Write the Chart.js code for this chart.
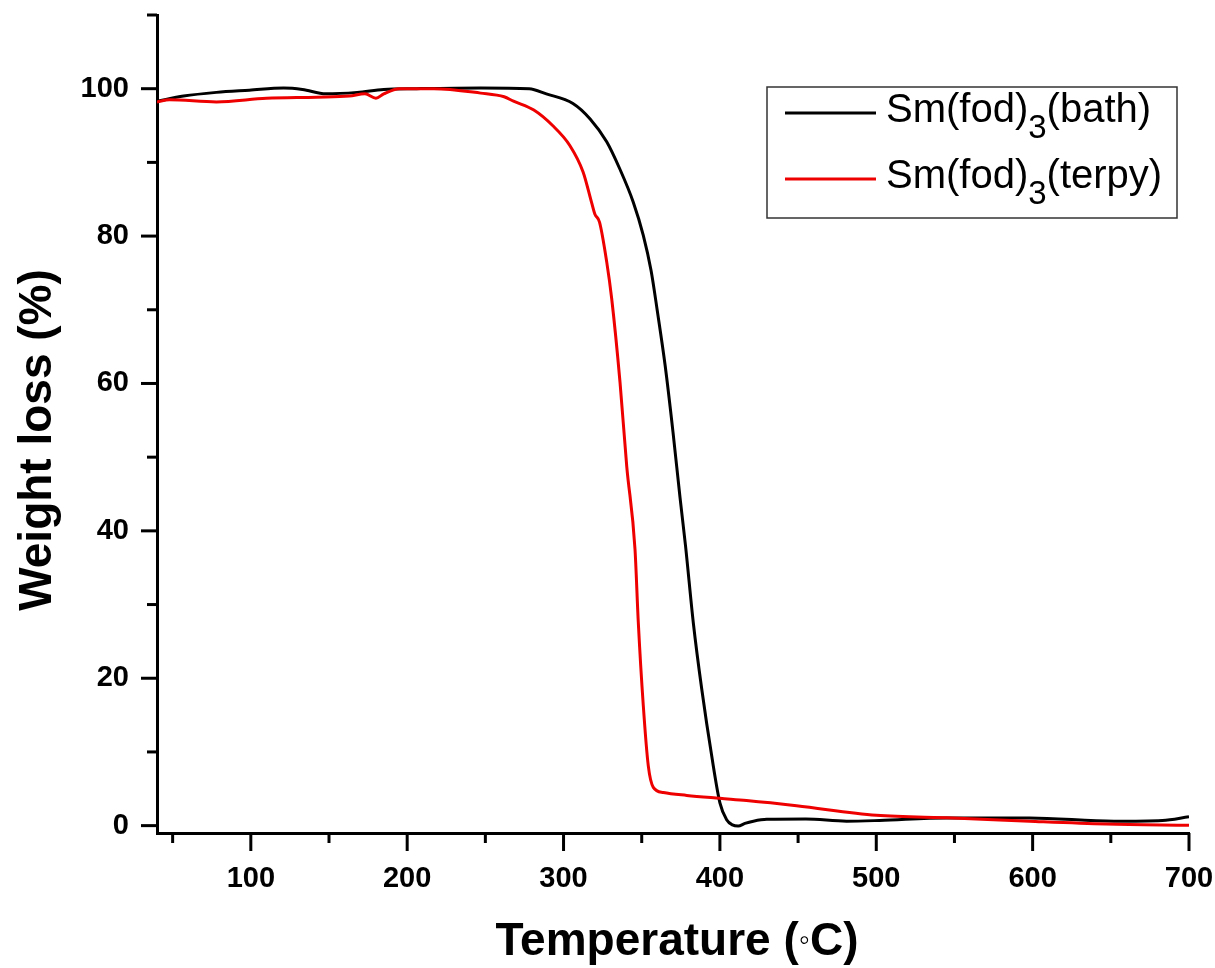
<!DOCTYPE html>
<html>
<head>
<meta charset="utf-8">
<script src="https://cdn.jsdelivr.net/npm/chart.js@4/dist/chart.umd.min.js"></script>
<style>
  html, body { margin: 0; padding: 0; background: #fff; }
  #wrap { width: 1215px; height: 968px; position: relative; }
</style>
</head>
<body>
<div id="wrap"><canvas id="c" width="1215" height="968"></canvas></div>
<script>
// TGA curves: temperature (°C) vs remaining weight (%)
const bathTemp = [40, 57, 78, 99, 121, 133, 148, 168, 185, 206, 247, 278, 289, 306, 317, 327.6, 336, 344.6, 351, 356, 360, 365, 370, 374.5, 378, 383, 388.4, 394.8, 400, 404.3, 408, 411.7, 416, 421.4, 430, 455, 481, 502, 545, 598, 652, 683, 700];
const bathWeight = [98.3, 99.0, 99.5, 99.8, 100.1, 99.9, 99.3, 99.5, 99.9, 100.0, 100.1, 100.0, 99.3, 98.0, 95.9, 92.8, 89.1, 84.6, 80.1, 75.3, 69.8, 62.4, 53.4, 44.5, 38.0, 27.5, 18.5, 9.4, 3.1, 0.8, 0.1, -0.05, 0.3, 0.6, 0.85, 0.9, 0.6, 0.7, 1.05, 1.05, 0.6, 0.7, 1.2];

const terpyTemp = [40, 48, 78, 110, 142, 163, 173, 180, 185, 195, 217, 247, 262, 268, 281, 293, 304, 312.5, 318, 320, 323, 327.6, 330.8, 336.1, 340.4, 345.7, 347.8, 351, 354.2, 357.4, 363.8, 378.8, 400, 417, 449, 500, 549, 598, 647, 700];
const terpyWeight = [98.2, 98.5, 98.2, 98.7, 98.85, 99.0, 99.3, 98.7, 99.3, 100.0, 100.0, 99.4, 98.9, 98.3, 97.1, 95.0, 92.3, 88.7, 84.5, 83.0, 81.9, 76.5, 71.5, 60.2, 48.8, 37.5, 27.6, 16.3, 8.1, 5.2, 4.5, 4.1, 3.7, 3.4, 2.7, 1.4, 1.05, 0.6, 0.22, 0.05];

// legend text split into [main, subscript, tail]
const bathLabel = ['Sm(fod)', '3', '(bath)'];
const terpyLabel = ['Sm(fod)', '3', '(terpy)'];

const xTickLabels = [100, 200, 300, 400, 500, 600, 700];
const yTickLabels = [0, 20, 40, 60, 80, 100];

const xTitle = ['Temperature (', '\u25E6', 'C)'];
const yTitle = 'Weight loss (%)';

const BLACK = '#000000';
const RED = '#ee0000';
const FONT = "'Liberation Sans', Arial, sans-serif";

function toPoints(xs, ys) { return xs.map((x, i) => ({ x: x, y: ys[i] })); }

// tick marks, axis titles and the boxed legend
const decor = {
  id: 'decor',
  afterDraw(chart) {
    const ctx = chart.ctx;
    const xs = chart.scales.x, ys = chart.scales.y;
    const ca = chart.chartArea;
    ctx.save();
    ctx.strokeStyle = '#000';
    ctx.lineWidth = 3;
    ctx.lineCap = 'butt';
    for (let v = 50; v <= 700; v += 50) {
      const px = xs.getPixelForValue(v);
      const len = v % 100 === 0 ? 18 : 10;
      ctx.beginPath();
      ctx.moveTo(px, ca.bottom);
      ctx.lineTo(px, ca.bottom + len);
      ctx.stroke();
    }
    for (let v = 0; v <= 110; v += 10) {
      const py = ys.getPixelForValue(v);
      const len = v % 20 === 0 ? 16 : 10;
      ctx.beginPath();
      ctx.moveTo(ca.left, py);
      ctx.lineTo(ca.left - len, py);
      ctx.stroke();
    }

    // y title
    ctx.fillStyle = '#000';
    ctx.save();
    ctx.translate(38, 440);
    ctx.rotate(-Math.PI / 2);
    ctx.font = 'bold 46px ' + FONT;
    ctx.textAlign = 'center';
    ctx.textBaseline = 'middle';
    ctx.fillText(yTitle, 0, 0);
    ctx.restore();

    // x title with a small degree ring
    const fBig = 'bold 46px ' + FONT;
    const fRing = '32px ' + FONT;
    ctx.textBaseline = 'alphabetic';
    ctx.textAlign = 'left';
    ctx.font = fBig; const w1 = ctx.measureText(xTitle[0]).width;
    ctx.font = fRing; const w2 = ctx.measureText(xTitle[1]).width;
    ctx.font = fBig; const w3 = ctx.measureText(xTitle[2]).width;
    let tx = 677 - (w1 + w2 + w3) / 2;
    const base = 955;
    ctx.font = fBig; ctx.fillText(xTitle[0], tx, base); tx += w1;
    ctx.font = fRing; ctx.fillText(xTitle[1], tx, base - 5); tx += w2;
    ctx.font = fBig; ctx.fillText(xTitle[2], tx, base);

    // legend box
    ctx.lineWidth = 1.5;
    ctx.strokeStyle = '#333';
    ctx.strokeRect(767, 87, 410, 131);
    const rows = [
      { color: BLACK, parts: bathLabel, y: 113 },
      { color: RED, parts: terpyLabel, y: 179 }
    ];
    rows.forEach(r => {
      ctx.strokeStyle = r.color;
      ctx.lineWidth = 3;
      ctx.beginPath();
      ctx.moveTo(785, r.y);
      ctx.lineTo(876, r.y);
      ctx.stroke();
      let lx = 886;
      const bl = r.y + 9;
      ctx.fillStyle = '#000';
      ctx.font = '40px ' + FONT;
      ctx.fillText(r.parts[0], lx, bl); lx += ctx.measureText(r.parts[0]).width;
      ctx.font = '33px ' + FONT;
      ctx.fillText(r.parts[1], lx, bl + 16); lx += ctx.measureText(r.parts[1]).width;
      ctx.font = '40px ' + FONT;
      ctx.fillText(r.parts[2], lx, bl);
    });
    ctx.restore();
  }
};

new Chart(document.getElementById('c'), {
  type: 'line',
  data: {
    datasets: [
      {
        label: 'Sm(fod)\u2083(terpy)',
        data: toPoints(terpyTemp, terpyWeight),
        borderColor: RED,
        borderWidth: 3,
        pointRadius: 0,
        cubicInterpolationMode: 'monotone',
        fill: false
      },
      {
        label: 'Sm(fod)\u2083(bath)',
        data: toPoints(bathTemp, bathWeight),
        borderColor: BLACK,
        borderWidth: 3,
        pointRadius: 0,
        cubicInterpolationMode: 'monotone',
        fill: false
      }
    ]
  },
  options: {
    responsive: false,
    animation: false,
    devicePixelRatio: 1,
    layout: { padding: { left: 0, top: 15, right: 26, bottom: 0 } },
    plugins: { legend: { display: false }, tooltip: { enabled: false } },
    scales: {
      x: {
        type: 'linear',
        min: 40,
        max: 700,
        afterFit: s => { s.height = 135; s.paddingLeft = 0; s.paddingRight = 0; },
        afterBuildTicks: s => { s.ticks = xTickLabels.map(v => ({ value: v })); },
        grid: { display: true, drawOnChartArea: false, drawTicks: false },
        border: { display: true, color: '#000', width: 3 },
        ticks: {
          autoSkip: false,
          maxRotation: 0,
          padding: 29,
          color: '#000',
          font: { family: FONT, size: 29, weight: 'bold' },
          callback: v => String(v)
        }
      },
      y: {
        type: 'linear',
        min: -1,
        max: 110,
        afterFit: s => { s.width = 157; s.paddingTop = 0; s.paddingBottom = 0; },
        afterBuildTicks: s => { s.ticks = yTickLabels.map(v => ({ value: v })); },
        grid: { display: true, drawOnChartArea: false, drawTicks: false },
        border: { display: true, color: '#000', width: 3 },
        ticks: {
          autoSkip: false,
          padding: 28,
          color: '#000',
          font: { family: FONT, size: 29, weight: 'bold' },
          callback: v => String(v)
        }
      }
    }
  },
  plugins: [decor]
});
</script>
</body>
</html>
